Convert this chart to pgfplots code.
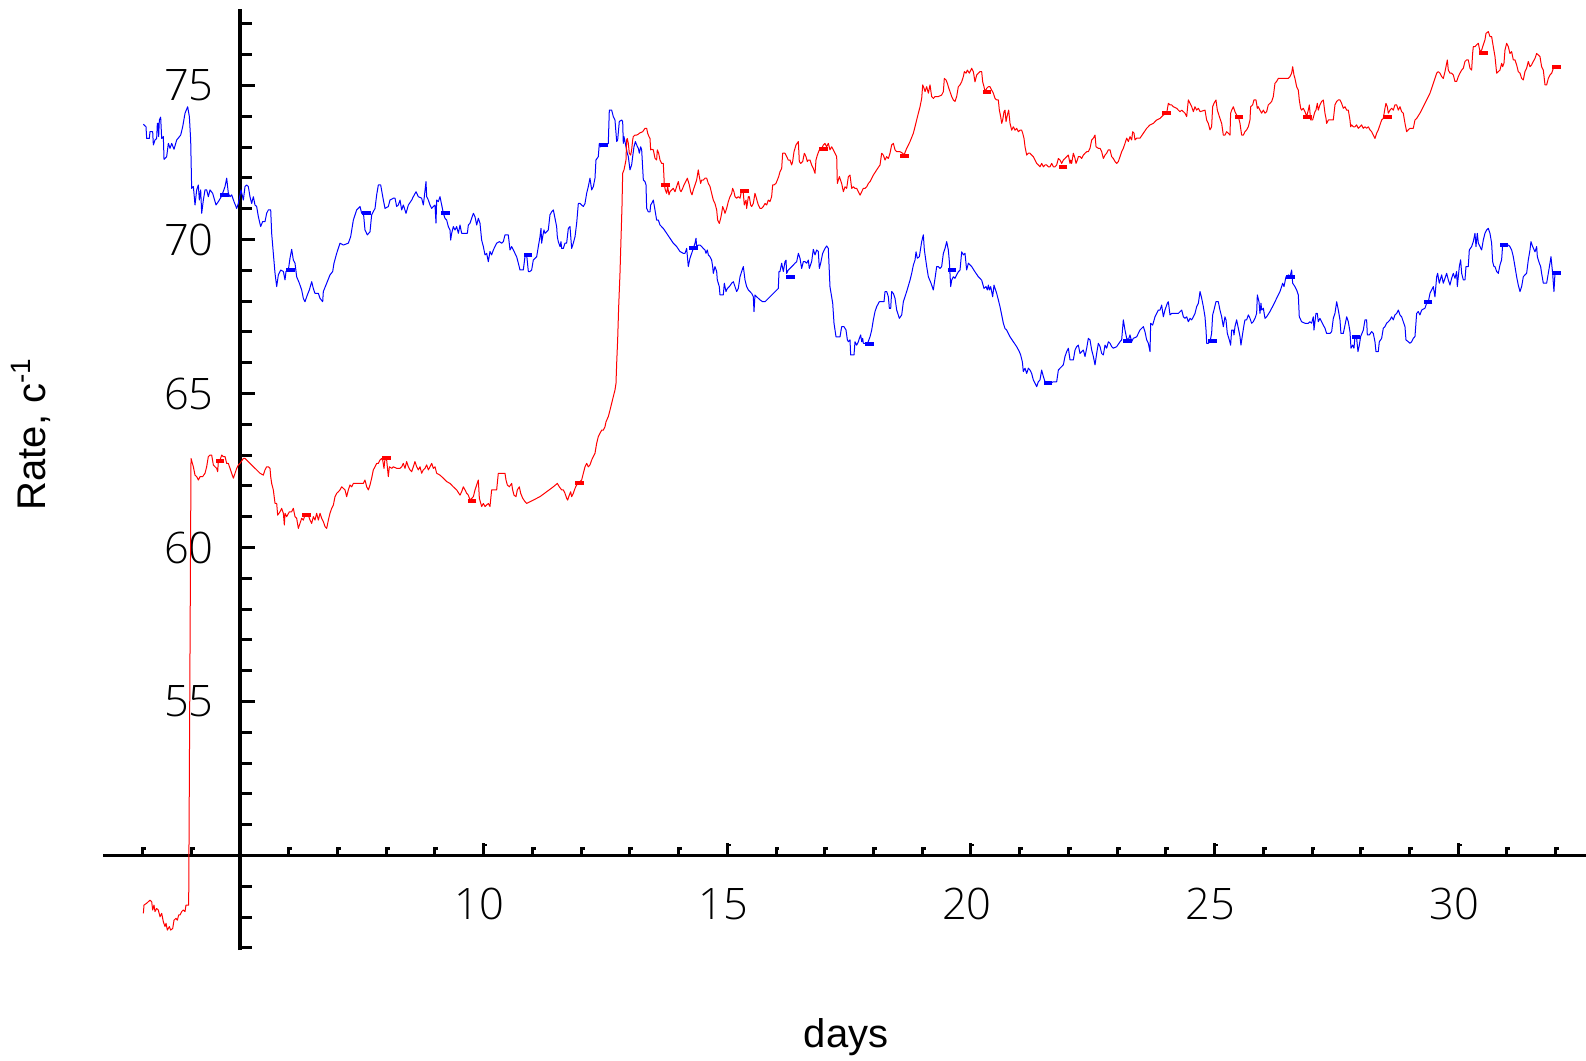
\documentclass[border=0pt]{standalone}
\usepackage{pgfplots}
\pgfplotsset{compat=1.18}
\usepackage{fontspec}
\setmainfont{Liberation Sans}
\IfFontExistsTF{Open Sans Light}
  {\newfontfamily\tickfamily{Open Sans Light}\newcommand\ticksize{21.7bp}}
  {\newfontfamily\tickfamily{DejaVu Sans Mono}\newcommand\ticksize{21.25bp}}
\newcommand\tickfont{\tickfamily\fontsize{\ticksize}{25bp}\selectfont}
\newcommand\labelfont{\fontsize{20bp}{24bp}\selectfont}
\tikzset{
  xlab/.style={anchor=north, inner sep=0pt, font=\tickfont, xshift=-2bp, yshift=-16.25bp},
  ylab/.style={anchor=east, inner sep=0pt, font=\tickfont, xshift=-13bp},
}

\begin{document}
\begin{tikzpicture}
\useasboundingbox (0,0) rectangle (793bp,530.5bp);
\begin{axis}[
  at={(0,0)}, anchor=south west,
  scale only axis, width=793bp, height=530.5bp,
  xmin=0.075, xmax=32.622, ymin=43.328, ymax=77.776,
  hide axis, clip=false,
]
% axes crossing at (5,50)
\draw[line width=1.65bp] (axis cs:2.19,50) -- (axis cs:32.622,50);
\draw[line width=1.65bp] (axis cs:5,46.93) -- (axis cs:5,77.47);
% x ticks (pointing up, with a small nub at the top)
\pgfplotsinvokeforeach{3,4,6,7,8,9,11,12,13,14,16,17,18,19,21,22,23,24,26,27,28,29,31,32}{
  \draw[line width=1.5bp] (axis cs:#1,50) -- (axis cs:#1,50.276);
  \draw[line width=1.1bp] (axis cs:#1,50.23) -- ([xshift=1.7bp]axis cs:#1,50.23);}
\pgfplotsinvokeforeach{10,15,20,25,30}{
  \draw[line width=1.5bp] (axis cs:#1,50) -- (axis cs:#1,50.39);
  \draw[line width=1.1bp] (axis cs:#1,50.345) -- ([xshift=1.7bp]axis cs:#1,50.345);
  \node[xlab] at (axis cs:#1,50) {#1};}
% y ticks (pointing right)
\pgfplotsinvokeforeach{47,48,49,51,52,53,54,56,57,58,59,61,62,63,64,66,67,68,69,71,72,73,74,76,77}{
  \draw[line width=1.5bp] (axis cs:5,#1) -- (axis cs:5.246,#1);}
\pgfplotsinvokeforeach{55,60,65,70,75}{
  \draw[line width=1.5bp] (axis cs:5,#1) -- (axis cs:5.318,#1);
  \node[ylab] at (axis cs:5,#1) {#1};}

% blue series
\addplot[blue, line width=0.5bp, line join=round] coordinates {
(3.017,73.74)(3.071,73.66)(3.085,73.28)(3.140,73.28)(3.153,73.50)(3.208,73.50)(3.222,73.07)(3.256,73.23)(3.290,73.28)(3.304,73.77)(3.318,73.77)(3.331,73.34)(3.345,73.88)(3.372,73.97)(3.393,73.28)(3.427,73.34)(3.441,72.60)(3.495,72.69)(3.530,73.12)(3.564,72.96)(3.598,73.12)(3.646,72.93)(3.701,73.23)(3.783,73.39)(3.824,73.66)(3.872,74.10)(3.926,74.31)(3.961,73.99)(3.988,73.23)(4.008,71.66)(4.043,71.72)(4.077,71.12)(4.111,71.61)(4.145,71.77)(4.166,71.28)(4.193,71.61)(4.214,70.85)(4.248,71.28)(4.282,71.61)(4.316,71.61)(4.350,71.39)(4.385,71.61)(4.439,71.50)(4.508,71.12)(4.556,71.23)(4.624,71.41)(4.693,71.72)(4.727,71.99)(4.761,71.50)(4.795,71.39)(4.829,71.45)(4.877,71.23)(4.932,71.01)(4.966,71.17)(5.021,71.61)(5.069,71.28)(5.103,71.72)(5.137,71.77)(5.171,71.72)(5.205,71.39)(5.240,71.17)(5.274,71.39)(5.308,71.12)(5.342,71.07)(5.377,70.74)(5.424,70.42)(5.465,70.58)(5.513,70.58)(5.547,70.85)(5.582,70.96)(5.630,70.96)(5.650,70.20)(5.684,69.55)(5.719,68.90)(5.753,68.47)(5.787,68.85)(5.835,69.01)(5.890,68.96)(5.924,68.69)(5.944,68.96)(5.992,69.01)(6.026,69.39)(6.061,69.68)(6.095,69.33)(6.129,69.23)(6.163,68.79)(6.218,68.58)(6.266,68.36)(6.300,68.09)(6.334,67.98)(6.382,68.20)(6.423,68.36)(6.471,68.63)(6.505,68.41)(6.539,68.25)(6.608,68.25)(6.642,68.09)(6.697,67.98)(6.710,68.31)(6.779,68.58)(6.847,68.85)(6.902,68.96)(6.929,69.23)(6.984,69.55)(7.052,69.88)(7.121,69.82)(7.223,69.88)(7.271,70.09)(7.326,70.63)(7.394,70.96)(7.463,71.07)(7.497,70.85)(7.531,70.90)(7.565,70.31)(7.613,70.15)(7.668,70.25)(7.702,70.80)(7.771,71.01)(7.805,71.45)(7.839,71.77)(7.887,71.77)(7.942,71.28)(7.976,71.01)(8.044,71.07)(8.078,71.28)(8.147,71.34)(8.181,71.34)(8.215,71.07)(8.249,71.12)(8.284,71.28)(8.318,70.96)(8.352,71.12)(8.407,70.85)(8.455,71.12)(8.523,71.28)(8.557,71.39)(8.612,71.55)(8.660,71.39)(8.728,71.34)(8.762,71.12)(8.783,71.39)(8.817,71.88)(8.831,71.39)(8.865,71.28)(8.899,71.12)(8.934,71.01)(8.968,71.07)(9.002,71.12)(9.022,70.53)(9.036,71.28)(9.070,71.23)(9.104,71.39)(9.139,71.12)(9.173,70.85)(9.207,70.69)(9.241,70.63)(9.275,70.42)(9.310,70.31)(9.323,69.98)(9.344,70.20)(9.378,70.42)(9.412,70.31)(9.446,70.42)(9.481,70.20)(9.515,70.47)(9.549,70.20)(9.618,70.20)(9.666,70.20)(9.686,70.47)(9.720,70.53)(9.754,70.69)(9.789,70.85)(9.823,70.74)(9.857,70.47)(9.891,70.69)(9.925,70.53)(9.959,69.98)(9.994,69.77)(10.028,69.50)(10.062,69.55)(10.096,69.28)(10.130,69.61)
(10.164,69.50)(10.199,69.66)(10.233,69.77)(10.267,69.88)(10.322,69.93)(10.370,69.88)(10.404,69.93)(10.438,70.15)(10.506,70.15)(10.541,69.66)(10.575,69.77)(10.609,69.66)(10.677,69.44)(10.712,69.23)(10.746,69.01)(10.814,69.01)(10.848,69.44)(10.883,69.50)(10.917,68.96)(10.951,68.96)(10.985,69.01)(11.019,69.33)(11.054,69.39)(11.088,69.44)(11.122,69.77)(11.156,70.09)(11.177,70.36)(11.190,69.88)(11.211,70.09)(11.238,70.31)(11.259,70.20)(11.293,70.25)(11.327,70.31)(11.361,70.80)(11.396,70.90)(11.430,70.96)(11.464,70.69)(11.498,70.42)(11.512,70.09)(11.532,69.93)(11.567,69.77)(11.587,69.93)(11.601,69.71)(11.635,69.71)(11.669,69.88)(11.703,69.88)(11.738,70.36)(11.772,70.42)(11.806,69.71)(11.840,69.88)(11.875,70.09)(11.909,70.53)(11.943,71.17)(11.977,71.17)(12.011,71.12)(12.046,71.07)(12.080,71.17)(12.114,71.50)(12.148,71.72)(12.182,71.99)(12.217,71.61)(12.251,71.72)(12.285,71.99)(12.305,72.58)(12.353,72.69)(12.374,73.12)(12.401,73.01)(12.456,73.07)(12.524,73.07)(12.558,73.12)(12.579,74.20)(12.627,74.20)(12.661,73.99)(12.695,73.88)(12.730,73.18)(12.750,73.23)(12.784,73.83)(12.832,73.88)(12.853,73.83)(12.866,73.12)(12.880,73.34)(12.921,73.01)(12.948,72.80)(12.969,72.69)(13.003,72.26)(13.037,72.42)(13.058,72.69)(13.085,73.01)(13.113,73.18)(13.140,73.07)(13.174,72.96)(13.195,72.80)(13.222,73.01)(13.243,72.91)(13.277,71.93)(13.311,71.88)(13.332,71.77)(13.345,71.01)(13.379,70.90)(13.414,70.90)(13.427,71.12)(13.448,71.17)(13.482,71.28)(13.516,70.96)(13.550,70.63)(13.585,70.63)(13.619,70.47)(13.687,70.36)(13.756,70.20)(13.824,70.04)(13.892,69.88)(13.961,69.77)(14.029,69.61)(14.097,69.55)(14.132,69.55)(14.166,69.71)(14.200,69.12)(14.234,69.39)(14.269,69.55)(14.303,69.71)(14.337,69.88)(14.358,70.04)(14.371,69.77)(14.405,69.82)(14.440,69.82)(14.474,69.77)(14.508,69.71)(14.542,69.66)(14.563,69.55)(14.590,69.66)(14.611,69.50)(14.645,69.44)(14.679,69.33)(14.700,69.12)(14.713,68.90)(14.747,69.12)(14.782,68.96)(14.795,68.69)(14.836,68.47)(14.850,68.20)(14.884,68.20)(14.918,68.20)(14.939,68.58)(14.973,68.31)(15.001,68.41)(15.042,68.47)(15.090,68.58)(15.124,68.63)(15.158,68.47)(15.192,68.31)(15.226,68.41)(15.261,68.79)(15.295,68.96)(15.329,69.12)(15.363,68.69)(15.397,68.47)(15.432,68.36)(15.500,68.25)(15.534,68.14)(15.548,67.66)(15.568,68.20)(15.603,68.14)(15.637,68.09)(15.671,68.04)(15.726,67.98)(15.774,67.98)(15.876,68.14)(15.945,68.25)(16.047,68.41)(16.061,68.96)(16.081,68.96)(16.116,69.23)(16.150,68.96)(16.184,69.28)(16.205,69.33)(16.218,68.90)(16.252,69.01)(16.287,69.06)(16.355,69.17)(16.389,69.23)(16.424,69.28)(16.458,69.55)(16.492,69.39)(16.526,69.06)(16.560,69.28)(16.595,69.28)(16.629,69.23)(16.663,69.33)(16.683,69.06)(16.731,69.28)(16.765,69.68)(16.800,69.50)(16.834,69.66)(16.868,69.61)(16.889,69.06)(16.916,69.23)(16.957,69.55)(17.005,69.71)(17.039,69.79)(17.073,69.71)(17.107,68.47)
(17.163,67.93)(17.190,67.28)(17.231,66.84)(17.279,66.84)(17.313,66.84)(17.347,67.17)(17.395,67.17)(17.436,67.06)(17.464,66.74)(17.484,66.68)(17.518,66.74)(17.532,66.25)(17.573,66.25)(17.600,66.25)(17.621,66.68)(17.655,66.57)(17.689,66.68)(17.710,66.79)(17.737,66.90)(17.758,66.68)(17.778,66.79)(17.792,66.63)(17.826,66.63)(17.874,66.61)(17.929,66.84)(17.963,67.06)(17.997,67.39)(18.031,67.66)(18.066,67.82)(18.120,67.98)(18.168,67.98)(18.216,67.98)(18.237,68.31)(18.271,68.31)(18.305,68.14)(18.326,67.76)(18.353,67.76)(18.373,68.31)(18.408,68.25)(18.442,68.09)(18.476,67.71)(18.531,67.44)(18.579,67.55)(18.613,67.98)(18.681,68.31)(18.750,68.68)(18.784,68.90)(18.818,69.17)(18.852,69.33)(18.873,69.60)(18.900,69.39)(18.941,69.44)(18.989,69.93)(19.023,70.15)(19.044,69.66)(19.092,69.12)(19.126,68.79)(19.181,68.58)(19.228,68.36)(19.263,68.74)(19.297,69.12)(19.331,69.12)(19.365,69.06)(19.399,69.12)(19.434,69.55)(19.468,69.71)(19.502,69.93)(19.536,69.66)(19.557,69.28)(19.584,68.47)(19.605,68.68)(19.639,68.79)(19.673,68.74)(19.707,68.85)(19.741,68.95)(19.776,69.01)(19.810,69.60)(19.844,69.50)(19.878,69.55)(19.912,69.01)(19.947,69.23)(20.015,69.12)(20.083,68.95)(20.152,68.79)(20.220,68.68)(20.268,68.41)(20.309,68.47)(20.337,68.36)(20.357,68.52)(20.378,68.36)(20.405,68.47)(20.446,68.14)(20.473,68.52)(20.528,68.25)(20.562,68.04)(20.596,67.82)(20.631,67.55)(20.665,67.28)(20.699,67.11)(20.733,67.06)(20.802,66.84)(20.870,66.68)(20.938,66.52)(20.993,66.36)(21.020,66.25)(21.055,66.03)(21.075,65.71)(21.110,65.82)(21.144,65.65)(21.178,65.82)(21.212,65.76)(21.246,65.65)(21.280,65.44)(21.349,65.22)(21.383,65.38)(21.417,65.44)(21.451,65.76)(21.486,65.55)(21.520,65.38)(21.554,65.33)(21.622,65.33)(21.691,65.38)(21.759,65.38)(21.794,65.76)(21.828,65.82)(21.896,65.93)(21.930,66.20)(21.965,66.36)(21.999,66.47)(22.033,66.09)(22.067,66.09)(22.101,66.09)(22.136,66.41)(22.170,66.52)(22.204,66.57)(22.238,66.30)(22.272,66.36)(22.307,66.41)(22.341,66.20)(22.375,66.47)(22.409,66.79)(22.443,66.74)(22.478,66.41)(22.512,66.20)(22.546,65.93)(22.580,66.30)(22.614,66.63)(22.649,66.52)(22.683,66.30)(22.717,66.25)(22.751,66.57)(22.785,66.47)(22.820,66.68)(22.854,66.63)(22.888,66.52)(22.922,66.47)(22.990,66.52)(23.059,66.68)(23.093,66.74)(23.127,67.39)(23.161,67.06)(23.196,66.79)(23.230,66.74)(23.264,66.90)(23.298,66.68)(23.332,66.79)(23.401,66.84)(23.469,67.06)(23.538,67.17)(23.572,67.00)(23.606,66.74)(23.640,66.63)(23.675,66.36)(23.688,67.28)(23.729,67.22)(23.777,67.49)(23.811,67.60)(23.846,67.71)(23.880,67.71)(23.914,67.87)(23.948,67.49)(23.982,67.71)(24.030,67.93)(24.051,67.98)(24.085,67.55)(24.119,67.60)(24.188,67.60)(24.256,67.60)(24.325,67.71)(24.359,67.49)(24.393,67.44)(24.427,67.49)(24.461,67.33)(24.496,67.44)(24.530,67.39)(24.564,67.49)(24.598,67.60)(24.632,67.82)(24.667,67.93)(24.701,68.31)(24.735,68.09)(24.769,67.82)(24.803,67.49)(24.824,67.06)(24.838,66.63)(24.872,66.63)(24.906,66.68)
(24.939,66.95)(24.960,67.55)(24.987,67.71)(25.028,67.98)(25.076,67.98)(25.110,67.71)(25.145,67.49)(25.179,67.17)(25.213,67.49)(25.234,67.39)(25.261,66.95)(25.302,66.74)(25.329,66.57)(25.350,67.06)(25.384,67.06)(25.398,66.90)(25.418,67.17)(25.452,67.39)(25.487,67.12)(25.521,66.85)(25.541,66.57)(25.576,66.95)(25.603,67.22)(25.623,67.39)(25.658,67.39)(25.692,67.55)(25.726,67.44)(25.760,67.28)(25.794,67.33)(25.829,67.44)(25.863,67.60)(25.877,68.20)(25.911,67.98)(25.931,67.60)(25.952,67.93)(25.965,67.71)(26.000,67.77)(26.034,67.44)(26.068,67.49)(26.136,67.66)(26.205,67.87)(26.273,68.09)(26.342,68.31)(26.376,68.47)(26.396,68.58)(26.424,68.47)(26.465,68.79)(26.492,68.74)(26.513,68.85)(26.547,68.79)(26.581,69.01)(26.602,68.58)(26.649,68.47)(26.684,68.36)(26.718,68.20)(26.738,67.49)(26.786,67.33)(26.855,67.28)(26.923,67.28)(26.957,67.33)(26.991,67.28)(27.026,67.49)(27.039,67.06)(27.080,67.60)(27.108,67.60)(27.128,67.33)(27.162,67.44)(27.197,67.33)(27.231,67.22)(27.265,67.12)(27.299,66.95)(27.368,66.95)(27.402,67.01)(27.436,67.44)(27.470,67.60)(27.505,67.98)(27.539,67.71)(27.573,67.39)(27.593,66.95)(27.641,66.95)(27.676,67.22)(27.710,67.49)(27.744,67.33)(27.778,67.01)(27.799,66.47)(27.833,66.57)(27.860,66.47)(27.881,66.85)(27.915,66.79)(27.942,66.36)(27.970,66.57)(27.997,66.85)(28.024,66.95)(28.052,67.06)(28.086,67.39)(28.120,67.39)(28.134,66.90)(28.175,66.90)(28.223,67.01)(28.257,66.95)(28.291,66.68)(28.312,66.36)(28.359,66.36)(28.380,66.68)(28.428,66.79)(28.462,67.12)(28.496,67.17)(28.530,67.28)(28.565,67.33)(28.599,67.39)(28.633,67.49)(28.667,67.39)(28.701,67.55)(28.736,67.60)(28.770,67.71)(28.804,67.55)(28.838,67.49)(28.872,67.33)(28.907,67.17)(28.927,66.74)(28.975,66.68)(29.009,66.63)(29.043,66.68)(29.078,66.79)(29.112,66.85)(29.146,67.60)(29.180,67.66)(29.214,67.55)(29.249,67.71)(29.317,67.77)(29.351,67.93)(29.386,67.98)(29.420,68.25)(29.454,68.36)(29.488,68.47)(29.522,68.14)(29.557,68.79)(29.577,68.90)(29.611,68.58)(29.639,68.74)(29.659,68.85)(29.693,68.58)(29.728,68.74)(29.762,68.90)(29.796,68.69)(29.830,68.52)(29.864,68.74)(29.899,68.90)(29.933,68.74)(29.967,68.96)(29.981,68.47)(30.022,69.12)(30.049,69.34)(30.070,68.90)(30.104,68.69)(30.138,68.69)(30.159,69.12)(30.206,69.12)(30.227,69.66)(30.275,69.77)(30.309,69.93)(30.343,70.20)(30.364,69.77)(30.391,70.20)(30.412,69.88)(30.446,69.77)(30.480,69.66)(30.514,69.98)(30.548,70.20)(30.583,70.31)(30.617,70.36)(30.651,70.20)(30.685,69.88)(30.706,69.28)(30.733,69.12)(30.754,69.12)(30.788,68.96)(30.822,68.90)(30.856,69.17)(30.890,69.34)(30.911,69.82)(30.959,69.82)(31.027,69.82)(31.061,69.77)(31.096,69.66)(31.130,69.44)(31.164,69.12)(31.198,68.79)(31.232,68.52)(31.267,68.31)(31.301,68.47)(31.335,68.79)(31.369,68.85)(31.403,68.90)(31.438,69.34)(31.472,69.66)(31.492,69.93)(31.527,69.77)(31.575,69.60)(31.609,69.77)(31.623,69.44)(31.664,69.23)(31.691,69.12)(31.711,68.90)(31.746,68.58)(31.814,68.58)(31.848,68.90)(31.882,69.23)(31.903,69.44)(31.937,68.90)(31.964,68.31)(31.985,68.90)(32.074,68.90)
};

% red series
\addplot[red, line width=0.5bp, line join=round] coordinates {
(3.017,48.12)(3.030,48.39)(3.085,48.45)(3.119,48.50)(3.153,48.55)(3.188,48.50)(3.208,48.23)(3.235,48.39)(3.256,48.18)(3.290,48.28)(3.324,48.23)(3.359,48.01)(3.393,48.12)(3.427,47.85)(3.461,47.69)(3.482,47.80)(3.509,47.58)(3.550,47.69)(3.577,47.58)(3.619,47.63)(3.646,47.90)(3.687,47.96)(3.714,47.90)(3.742,48.07)(3.769,48.07)(3.803,48.18)(3.837,48.23)(3.872,48.18)(3.892,48.39)(3.919,48.39)(3.947,48.39)
(3.995,62.89)(4.043,62.62)(4.077,62.35)(4.111,62.30)(4.145,62.19)(4.179,62.30)(4.234,62.30)(4.282,62.41)(4.316,62.62)(4.350,62.95)(4.385,63.00)(4.419,63.00)(4.453,62.68)(4.487,62.62)(4.521,62.57)(4.542,62.46)(4.556,62.79)(4.590,62.84)(4.624,63.00)(4.658,62.95)(4.693,62.95)(4.727,62.73)(4.761,62.73)(4.795,62.57)(4.829,62.41)(4.864,62.25)(4.898,62.41)(4.932,62.57)(4.966,62.68)(5.000,62.73)(5.069,62.89)(5.103,62.89)(5.137,62.84)(5.205,62.73)(5.274,62.62)(5.342,62.52)(5.411,62.41)(5.479,62.35)(5.513,62.52)(5.547,62.62)(5.582,62.62)(5.616,62.57)(5.630,62.30)(5.650,62.08)(5.684,61.87)(5.719,61.43)(5.753,61.43)(5.773,61.05)(5.821,61.16)(5.855,61.27)(5.890,61.11)(5.910,60.73)(5.924,61.11)(5.958,61.00)(6.013,61.16)(6.060,61.16)(6.095,61.27)(6.129,61.00)(6.163,60.95)(6.197,60.62)(6.231,60.78)(6.266,60.95)(6.300,60.89)(6.334,61.05)(6.368,61.02)(6.402,61.05)(6.437,60.89)(6.471,60.78)(6.505,61.00)(6.539,60.89)(6.573,61.11)(6.608,60.89)(6.642,61.11)(6.676,60.95)(6.710,60.84)(6.745,60.68)(6.779,60.62)(6.813,60.89)(6.847,61.11)(6.881,61.27)(6.916,61.38)(6.950,61.65)(6.984,61.76)(7.018,61.81)(7.052,61.87)(7.087,61.97)(7.121,61.92)(7.155,61.87)(7.189,61.65)(7.223,61.87)(7.258,62.03)(7.292,61.97)(7.326,62.08)(7.394,62.08)(7.463,62.08)(7.531,62.08)(7.565,62.19)(7.600,61.97)(7.634,61.87)(7.668,62.03)(7.702,62.25)(7.736,62.52)(7.771,62.62)(7.805,62.73)(7.839,62.73)(7.873,62.84)(7.907,62.89)(7.928,62.84)(7.955,62.57)(7.976,62.89)(8.010,62.84)(8.044,62.30)(8.065,62.62)(8.113,62.57)(8.147,62.62)(8.215,62.57)(8.284,62.57)(8.318,62.62)(8.352,62.73)(8.386,62.57)(8.420,62.79)(8.455,62.62)(8.489,62.52)(8.523,62.46)(8.557,62.62)(8.591,62.79)(8.626,62.62)(8.660,62.52)(8.694,62.62)(8.728,62.41)(8.762,62.52)(8.797,62.57)(8.831,62.68)(8.865,62.52)(8.899,62.62)(8.934,62.73)(8.968,62.57)(9.002,62.62)(9.036,62.41)(9.104,62.35)(9.173,62.25)(9.241,62.14)(9.310,62.08)(9.378,61.97)(9.446,61.87)(9.515,61.70)(9.549,61.81)(9.583,61.97)(9.618,61.87)(9.652,61.76)(9.686,61.70)(9.720,61.54)(9.789,61.65)(9.823,61.87)(9.857,62.03)(9.891,62.19)(9.912,61.60)(9.959,61.33)(9.994,61.43)(10.028,61.33)(10.062,61.38)(10.096,61.43)(10.130,61.33)
(10.164,61.87)(10.199,61.87)(10.267,61.87)(10.301,62.41)(10.370,62.41)(10.438,62.41)(10.459,62.19)(10.486,62.03)(10.527,61.97)(10.575,62.08)(10.595,61.87)(10.623,61.70)(10.664,61.65)(10.691,61.87)(10.732,61.97)(10.760,61.76)(10.801,61.60)(10.848,61.49)(10.883,61.43)(11.019,61.54)(11.156,61.65)(11.293,61.81)(11.430,61.97)(11.512,62.08)(11.553,61.97)(11.601,61.87)(11.635,61.87)(11.669,61.76)(11.703,61.60)(11.724,61.54)(11.758,61.70)(11.786,61.81)(11.806,61.65)(11.840,61.76)(11.875,61.92)(11.909,62.03)(11.943,62.08)(11.977,62.14)(12.011,62.19)(12.046,62.41)(12.080,62.62)(12.114,62.73)(12.148,62.62)(12.182,62.68)(12.217,62.84)(12.251,62.95)(12.285,63.06)(12.319,63.38)(12.353,63.60)(12.388,63.71)(12.422,63.81)(12.456,63.81)(12.490,63.92)(12.511,64.08)(12.558,64.25)(12.593,64.46)(12.627,64.68)(12.661,64.90)(12.695,65.11)(12.716,65.33)(12.730,65.98)(12.750,66.74)(12.771,67.82)(12.798,68.90)(12.818,69.98)(12.839,71.07)(12.853,72.15)(12.880,72.26)(12.901,72.42)(12.921,72.58)(12.935,73.23)(12.948,73.28)(12.969,73.12)(12.989,72.80)(13.017,72.74)(13.037,72.91)(13.058,73.23)(13.071,73.34)(13.106,73.39)(13.140,73.39)(13.174,73.42)(13.195,73.45)(13.222,73.47)(13.263,73.50)(13.290,73.56)(13.311,73.61)(13.345,73.61)(13.366,73.45)(13.393,73.34)(13.414,73.28)(13.427,72.91)(13.448,72.93)(13.482,72.91)(13.516,72.64)(13.550,72.58)(13.564,72.91)(13.592,72.80)(13.619,72.58)(13.653,72.47)(13.687,72.47)(13.708,71.77)(13.728,71.61)(13.756,71.50)(13.776,71.72)(13.803,71.45)(13.824,71.55)(13.858,71.61)(13.892,71.66)(13.927,71.55)(13.961,71.72)(13.995,71.88)(14.029,71.61)(14.050,71.55)(14.084,71.66)(14.111,71.77)(14.146,71.88)(14.180,71.99)(14.221,71.77)(14.248,71.55)(14.276,71.45)(14.303,71.61)(14.337,71.77)(14.371,71.93)(14.405,72.26)(14.426,72.04)(14.453,71.82)(14.474,71.93)(14.508,71.93)(14.542,71.99)(14.576,71.99)(14.611,71.82)(14.645,71.72)(14.679,71.50)(14.713,71.28)(14.747,71.17)(14.782,70.96)(14.802,70.63)(14.836,70.52)(14.864,70.69)(14.884,70.85)(14.905,71.07)(14.932,70.96)(14.953,70.85)(14.987,71.01)(15.021,71.23)(15.055,71.39)(15.090,71.50)(15.110,71.66)(15.137,71.55)(15.158,71.39)(15.192,71.34)(15.226,71.39)(15.261,71.34)(15.295,71.61)(15.329,71.50)(15.349,71.12)(15.384,71.28)(15.397,71.01)(15.432,71.39)(15.452,71.39)(15.479,71.12)(15.500,71.07)(15.534,71.17)(15.568,71.50)(15.589,71.39)(15.616,71.23)(15.637,71.12)(15.671,71.01)(15.705,71.01)(15.739,71.07)(15.774,71.17)(15.808,71.12)(15.842,71.28)(15.876,71.23)(15.910,71.39)(15.931,71.77)(15.958,71.77)(15.999,71.82)(16.027,71.93)(16.054,72.04)(16.081,72.20)(16.116,72.31)(16.136,72.80)(16.184,72.80)(16.218,72.69)(16.252,72.58)(16.287,72.58)(16.321,72.42)(16.341,72.53)(16.369,72.85)(16.410,73.07)(16.458,73.18)(16.478,72.53)(16.506,72.47)(16.547,72.53)(16.581,72.80)(16.615,72.69)(16.642,72.53)(16.663,72.58)(16.697,72.58)(16.731,72.42)(16.765,72.31)(16.800,72.15)(16.820,72.58)(16.848,72.74)(16.889,72.91)(16.937,72.96)(16.971,73.07)(17.005,73.12)(17.039,73.01)(17.073,73.12)(17.107,72.91)
(17.142,73.01)(17.176,72.91)(17.211,72.80)(17.245,72.69)(17.258,71.82)(17.300,72.04)(17.347,71.82)(17.382,71.55)(17.416,71.71)(17.450,71.66)(17.484,72.04)(17.518,72.09)(17.553,71.66)(17.587,71.71)(17.621,71.66)(17.655,71.66)(17.689,71.55)(17.724,71.44)(17.758,71.55)(17.792,71.66)(17.826,71.66)(17.860,71.71)(17.895,71.82)(17.929,71.88)(17.997,72.09)(18.066,72.26)(18.134,72.42)(18.168,72.80)(18.202,72.74)(18.237,72.58)(18.271,72.69)(18.305,72.63)(18.339,72.80)(18.373,73.07)(18.408,73.12)(18.442,72.91)(18.476,72.85)(18.544,72.85)(18.599,72.80)(18.626,72.74)(18.681,72.96)(18.750,73.18)(18.818,73.45)(18.852,73.66)(18.886,73.88)(18.921,74.10)(18.955,74.31)(18.989,74.58)(19.010,75.02)(19.037,74.91)(19.058,74.80)(19.092,74.96)(19.126,74.75)(19.160,75.02)(19.194,74.64)(19.229,74.58)(19.263,74.64)(19.331,74.64)(19.399,74.69)(19.434,74.80)(19.454,75.23)(19.488,75.18)(19.516,75.07)(19.536,74.96)(19.570,74.80)(19.605,74.64)(19.639,74.53)(19.673,74.48)(19.707,74.64)(19.741,74.96)(19.776,75.02)(19.810,75.12)(19.844,75.29)(19.865,75.45)(19.899,75.40)(19.926,75.50)(19.967,75.40)(20.015,75.56)(20.049,75.45)(20.083,75.12)(20.118,75.34)(20.152,75.40)(20.186,75.45)(20.220,75.45)(20.241,75.12)(20.268,74.96)(20.289,74.80)(20.323,74.91)(20.357,74.96)(20.391,74.96)(20.426,74.85)(20.460,74.75)(20.494,74.58)(20.528,74.53)(20.562,74.53)(20.583,74.20)(20.610,73.99)(20.631,73.77)(20.651,73.88)(20.679,74.15)(20.699,74.20)(20.720,73.83)(20.747,74.04)(20.774,74.20)(20.802,73.77)(20.836,73.55)(20.870,73.66)(20.904,73.55)(20.938,73.61)(20.973,73.50)(21.007,73.55)(21.041,73.55)(21.062,73.45)(21.089,73.28)(21.110,73.01)(21.144,72.74)(21.178,72.80)(21.212,72.80)(21.246,72.74)(21.280,72.69)(21.315,72.58)(21.349,72.47)(21.383,72.42)(21.417,72.36)(21.451,72.47)(21.486,72.36)(21.520,72.42)(21.554,72.42)(21.588,72.36)(21.622,72.36)(21.657,72.47)(21.691,72.36)(21.725,72.36)(21.759,72.42)(21.794,72.63)(21.828,72.58)(21.862,72.47)(21.896,72.58)(21.930,72.63)(21.965,72.69)(21.999,72.74)(22.033,72.47)(22.047,72.58)(22.067,72.47)(22.101,72.80)(22.136,72.63)(22.156,72.47)(22.184,72.58)(22.204,72.69)(22.238,72.69)(22.272,72.63)(22.307,72.74)(22.341,72.80)(22.375,72.85)(22.409,72.85)(22.443,72.96)(22.478,73.23)(22.512,73.29)(22.546,73.39)(22.567,73.01)(22.614,72.96)(22.649,72.96)(22.683,72.85)(22.717,72.63)(22.751,72.74)(22.785,72.80)(22.820,72.91)(22.854,72.91)(22.888,72.69)(22.922,72.63)(22.957,72.53)(22.991,72.47)(23.025,72.53)(23.059,72.69)(23.093,72.85)(23.127,72.96)(23.161,73.12)(23.196,73.29)(23.230,73.18)(23.264,73.34)(23.298,73.23)(23.319,73.50)(23.346,73.45)(23.367,73.23)(23.401,73.29)(23.469,73.29)(23.538,73.45)(23.606,73.61)(23.675,73.72)(23.743,73.77)(23.811,73.88)(23.880,73.93)(23.948,74.04)(24.017,74.10)(24.051,74.42)(24.085,74.37)(24.119,74.37)(24.153,74.31)(24.222,74.26)(24.256,74.20)(24.290,74.15)(24.325,74.20)(24.359,74.15)(24.393,74.10)(24.427,73.99)(24.461,74.53)(24.496,74.42)(24.530,74.31)(24.564,74.15)(24.598,74.31)(24.632,74.20)(24.667,74.26)(24.701,74.15)
(24.803,74.20)(24.837,73.88)(24.871,73.77)(24.905,73.56)(24.939,73.66)(24.960,74.31)(24.987,74.42)(25.028,74.53)(25.056,74.20)(25.076,74.10)(25.110,73.93)(25.145,73.77)(25.179,73.39)(25.213,73.39)(25.247,73.50)(25.281,73.45)(25.316,73.39)(25.329,74.10)(25.350,74.20)(25.384,74.31)(25.418,74.15)(25.452,74.04)(25.487,73.99)(25.521,73.77)(25.555,73.39)(25.589,73.39)(25.623,73.50)(25.658,73.56)(25.692,73.66)(25.726,73.88)(25.740,74.31)(25.781,74.37)(25.808,74.53)(25.849,74.53)(25.877,74.26)(25.897,74.31)(25.931,74.20)(25.965,74.10)(26.000,74.20)(26.034,74.10)(26.068,74.15)(26.102,74.37)(26.136,74.42)(26.171,74.48)(26.205,74.64)(26.239,75.07)(26.273,75.13)(26.307,75.23)(26.376,75.23)(26.444,75.23)(26.513,75.23)(26.547,75.29)(26.581,75.40)(26.602,75.61)(26.629,75.34)(26.649,75.23)(26.684,74.96)(26.718,74.85)(26.738,74.53)(26.766,74.26)(26.786,74.20)(26.820,74.26)(26.855,74.15)(26.889,73.99)(26.923,74.20)(26.944,74.37)(26.971,73.88)(27.012,73.88)(27.039,74.04)(27.060,74.15)(27.080,74.20)(27.108,74.42)(27.128,74.20)(27.162,74.37)(27.197,74.48)(27.231,74.53)(27.265,74.10)(27.286,73.93)(27.299,73.77)(27.334,73.88)(27.402,73.88)(27.436,73.88)(27.470,74.37)(27.505,74.48)(27.539,74.53)(27.573,74.53)(27.607,74.42)(27.641,74.26)(27.676,74.31)(27.710,74.20)(27.744,74.20)(27.778,73.88)(27.792,73.66)(27.812,73.72)(27.846,73.66)(27.881,73.66)(27.915,73.72)(27.949,73.61)(27.983,73.66)(28.017,73.72)(28.052,73.61)(28.086,73.66)(28.120,73.61)(28.154,73.66)(28.188,73.56)(28.223,73.50)(28.257,73.39)(28.291,73.28)(28.325,73.45)(28.359,73.56)(28.394,73.72)(28.428,73.88)(28.462,73.93)(28.496,74.26)(28.517,74.42)(28.544,74.31)(28.565,74.10)(28.599,74.20)(28.633,74.26)(28.667,74.20)(28.701,74.37)(28.736,74.37)(28.770,74.20)(28.804,74.31)(28.838,74.15)(28.872,74.10)(28.907,73.77)(28.941,73.50)(28.975,73.56)(29.009,73.61)(29.078,73.61)(29.112,73.88)(29.146,73.93)(29.214,74.10)(29.283,74.31)(29.351,74.53)(29.420,74.75)(29.488,75.07)(29.557,75.40)(29.591,75.45)(29.625,75.40)(29.659,75.29)(29.693,75.23)(29.728,75.45)(29.762,75.72)(29.776,75.83)(29.796,75.50)(29.830,75.40)(29.864,75.40)(29.899,75.34)(29.933,75.13)(29.967,75.13)(30.001,75.29)(30.035,75.40)(30.070,75.50)(30.104,75.56)(30.138,75.78)(30.172,75.83)(30.206,75.83)(30.241,75.56)(30.275,75.50)(30.295,76.04)(30.309,76.26)(30.343,76.26)(30.377,76.32)(30.412,76.37)(30.446,76.10)(30.480,76.15)(30.514,76.32)(30.548,76.48)(30.569,76.69)(30.617,76.75)(30.651,76.59)(30.685,76.59)(30.719,76.26)(30.754,75.94)(30.788,75.40)(30.822,75.45)(30.856,75.50)(30.890,75.72)(30.911,75.61)(30.938,75.72)(30.959,76.15)(30.993,76.37)(31.027,76.26)(31.061,76.04)(31.096,76.10)(31.130,75.83)(31.164,75.83)(31.198,75.67)(31.232,75.45)(31.267,75.40)(31.301,75.23)(31.335,75.18)(31.369,75.45)(31.403,75.56)(31.438,75.78)(31.472,75.61)(31.506,75.67)(31.540,75.78)(31.575,75.88)(31.609,76.04)(31.643,75.99)(31.677,75.94)(31.711,75.61)(31.746,75.50)(31.780,75.02)(31.814,75.02)(31.848,75.23)(31.882,75.34)(31.917,75.40)(31.951,75.56)(31.985,75.61)(32.074,75.61)
};

% short bold dashes along each series
\addplot[only marks, blue, mark=-, mark size=2.2bp, mark options={line width=1.9bp}] coordinates {
(4.69,71.44)(6.03,69.01)(7.59,70.86)(9.21,70.86)(10.91,69.50)(12.47,73.07)(14.30,69.72)(16.29,68.78)(17.91,66.61)(19.61,69.01)(21.58,65.34)(23.22,66.70)(24.95,66.70)(26.55,68.78)(27.90,66.83)(29.38,67.97)(30.94,69.82)(32.01,68.91)
};
\addplot[only marks, red, mark=-, mark size=2.2bp, mark options={line width=1.9bp}] coordinates {
(4.59,62.81)(6.37,61.06)(8.00,62.91)(9.76,61.51)(11.96,62.09)(13.74,71.77)(15.36,71.57)(16.98,72.94)(18.63,72.71)(20.33,74.79)(21.89,72.35)(24.02,74.11)(25.50,73.98)(26.90,73.98)(28.54,73.98)(30.51,76.06)(32.01,75.60)
};
\end{axis}
\node[rotate=90, anchor=base, inner sep=0pt, font=\labelfont] at (22.5bp,313.5bp) {Rate, c\textsuperscript{-1}};
\node[anchor=base, inner sep=0pt, font=\labelfont] at (423bp,7bp) {days};
\end{tikzpicture}
\end{document}
